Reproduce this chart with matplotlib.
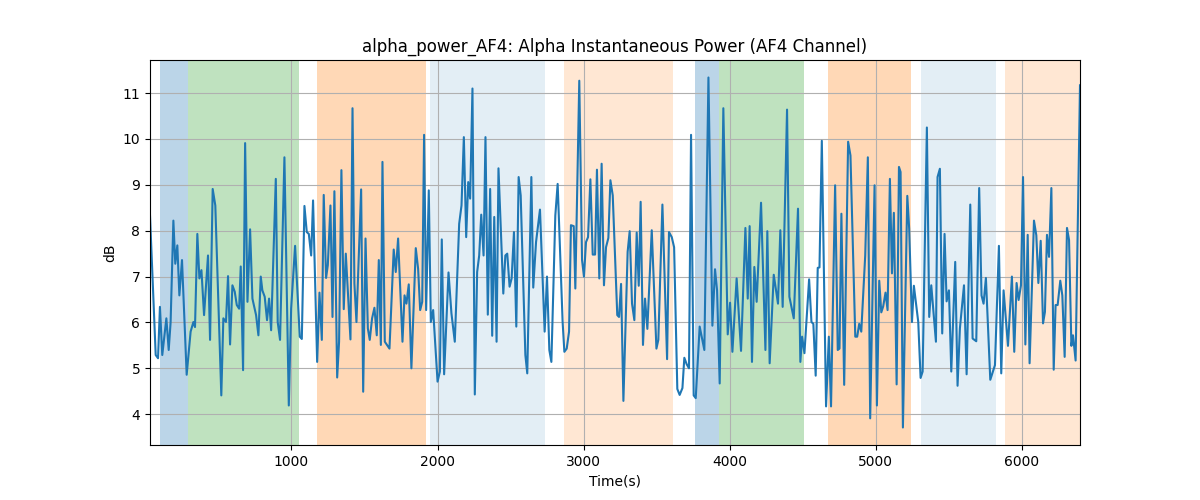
import matplotlib
matplotlib.use('Agg')
import matplotlib.pyplot as plt

# time (s) and alpha power (dB)
t = [32, 71, 87, 100, 116, 144, 160, 173, 192, 205, 219, 233, 251, 283, 310, 329, 340, 356, 370, 384,
     402, 429, 443, 461, 479, 520, 534, 552, 566, 580, 596, 612, 626, 642, 653, 669, 683, 699, 717, 733,
     758, 774, 790, 801, 817,
     833, 847, 861, 893, 906, 922, 952, 982, 998, 1025, 1057, 1071, 1089, 1105, 1119, 1135, 1148, 1176,
     1192, 1208, 1221, 1237, 1249, 1267, 1281, 1294, 1313, 1326, 1342, 1358, 1372, 1404, 1418, 1431, 1445,
     1477, 1491, 1507, 1523, 1536, 1552, 1568, 1584, 1598, 1612, 1623,
     1639, 1671, 1700, 1714, 1730, 1760, 1774, 1787, 1803, 1821, 1851, 1867, 1881, 1895, 1908, 1922, 1940,
     1954, 1970, 2000, 2016, 2029, 2045, 2075, 2095, 2118, 2148, 2164, 2180, 2196, 2210, 2223, 2239, 2255,
     2271, 2285, 2299, 2315, 2328, 2344, 2360, 2374, 2388, 2404, 2417,
     2450, 2464, 2477, 2493, 2507, 2523, 2539, 2555, 2569, 2601, 2614, 2642, 2655, 2674, 2701, 2733, 2749,
     2765, 2779, 2806, 2822, 2856, 2868, 2884, 2900, 2913, 2932, 2943, 2970, 2989, 3002, 3016, 3030, 3046,
     3062, 3078, 3091, 3107, 3123, 3139, 3153, 3169, 3183, 3199, 3230,
     3242, 3256, 3272, 3301, 3315, 3331, 3347, 3363, 3377, 3390, 3406, 3420, 3436, 3466, 3498, 3511, 3539,
     3571, 3584, 3603, 3619, 3641, 3657, 3676, 3689, 3705, 3721, 3735, 3753, 3767, 3794, 3826, 3854, 3881,
     3899, 3913, 3931, 3956, 3986, 4002, 4018,
     4047, 4077, 4107, 4123, 4136, 4152, 4168, 4184, 4214, 4244, 4257, 4273, 4301, 4330, 4346, 4362, 4392,
     4408, 4438, 4467, 4483, 4495, 4511, 4543, 4559, 4572, 4588, 4602, 4614, 4630, 4659, 4678, 4693, 4721,
     4739, 4751, 4764, 4783, 4810, 4826,
     4859, 4872, 4886, 4900, 4927, 4945, 4961, 4991, 5007, 5023, 5037, 5050, 5066, 5080, 5096, 5110, 5123,
     5142, 5158, 5169, 5185, 5215, 5228, 5247, 5260, 5290, 5306, 5320, 5349, 5365, 5379, 5411, 5422, 5438,
     5454, 5470, 5484, 5500, 5516, 5543, 5559, 5575, 5603, 5621,
     5646, 5662, 5687, 5707, 5723, 5737, 5753, 5783, 5815, 5842, 5858, 5874, 5904, 5931, 5947, 5963, 5977,
     5993, 6007, 6023, 6039, 6052, 6082, 6098, 6112, 6128, 6144, 6157, 6171, 6185, 6201, 6217, 6230, 6244,
     6262, 6276, 6292, 6308, 6322, 6338, 6349, 6367, 6397]
db = [8.33, 5.29, 5.22, 6.34, 5.29, 6.09, 5.4, 6.0, 8.22, 7.28, 7.68, 6.59, 7.36, 4.86, 5.8, 6.01, 5.9, 7.93, 6.96, 7.14,
      6.16, 7.46, 5.62, 8.91, 8.55, 4.41, 6.09, 6.01, 7.01, 5.52, 6.81, 6.67, 6.38, 6.3, 7.22, 4.96, 9.91, 6.45, 8.03, 6.52,
      6.16, 5.72, 7.0, 6.7, 6.56,
      6.05, 6.52, 5.83, 9.13, 6.01, 5.62, 9.6, 4.19, 6.3, 7.67, 5.69, 5.64, 8.54, 7.97, 7.93, 7.46, 8.66, 5.14,
      6.65, 5.62, 8.78, 6.97, 7.25, 8.55, 6.12, 8.86, 4.8, 5.58, 9.32, 6.29, 7.5, 5.63, 10.67, 6.85, 6.01,
      8.9, 4.49, 7.83, 5.87, 5.62, 6.09, 6.32, 5.72, 7.36, 5.51, 9.5,
      5.58, 5.43, 7.59, 7.1, 7.83, 5.58, 6.59, 6.41, 6.83, 5.0, 7.62, 7.17, 6.27, 6.45, 10.09, 6.27, 8.88,
      6.01, 6.27, 4.71, 4.93, 7.81, 4.87, 7.09, 6.2, 5.58, 8.15, 8.55, 10.04, 7.86, 9.06, 8.7, 11.1, 4.43,
      7.1, 7.46, 8.35, 7.46, 10.04, 6.17, 8.91, 5.71, 8.3, 5.58, 9.36,
      6.63, 7.46, 7.5, 6.78, 6.96, 7.97, 5.91, 9.17, 8.77, 5.29, 4.89, 9.17, 6.76, 7.75, 8.46, 5.8, 7.0,
      5.4, 5.14, 8.33, 9.02, 6.01, 5.36, 5.43, 5.8, 8.12, 8.1, 6.74, 11.27, 7.36, 7.0, 7.75, 7.86, 9.12,
      7.48, 7.48, 9.33, 6.96, 9.46, 6.81, 7.64, 7.84, 9.1, 8.77, 6.16,
      6.12, 6.84, 4.29, 7.54, 7.99, 6.41, 6.05, 7.96, 6.8, 8.63, 5.51, 6.52, 5.86, 8.01, 5.43, 5.62, 8.57,
      5.2, 7.97, 7.86, 7.64, 4.55, 4.42, 4.57, 5.23, 5.09, 5.0, 10.09, 4.41, 4.35, 5.91, 5.4, 11.34, 5.93,
      7.16, 6.7, 4.67, 10.67, 5.74, 6.43, 5.36,
      6.96, 5.38, 8.06, 6.52, 8.1, 5.14, 7.21, 6.45, 8.61, 5.4, 7.99, 5.11, 7.04, 6.41, 8.01, 6.34, 10.64,
      6.56, 6.09, 8.48, 5.14, 5.69, 5.33, 6.94, 6.01, 5.97, 4.84, 7.19, 7.2, 9.96, 4.17, 5.69, 4.17, 8.99,
      5.4, 5.43, 8.37, 4.64, 9.94, 9.64,
      5.69, 5.69, 5.97, 5.8, 7.46, 9.6, 3.91, 8.99, 4.19, 6.91, 6.22, 6.35, 6.65, 6.27, 9.13, 7.07, 8.39,
      4.65, 9.39, 9.28, 3.71, 8.76, 8.04, 6.01, 6.8, 6.01, 4.79, 4.93, 10.25, 6.12, 6.81, 5.58, 9.17, 9.35,
      5.76, 7.93, 6.46, 6.7, 4.93, 7.32, 4.62, 5.87, 6.81, 4.87,
      8.57, 5.65, 5.59, 8.93, 6.59, 6.41, 6.97, 4.75, 5.07, 7.67, 4.89, 6.7, 5.49, 7.0, 5.36, 6.86, 6.49,
      6.81, 9.17, 5.52, 7.91, 5.11, 8.22, 7.9, 6.86, 7.78, 5.98, 6.23, 7.91, 7.43, 8.93, 4.97, 6.38, 6.38,
      6.91, 6.59, 5.25, 8.06, 7.8, 5.49, 5.72, 5.17, 11.17]

# shaded segments: start, end, colour, alpha
seg_start = [103, 293, 1177, 1950, 2863, 3760, 3926, 4671, 5308, 5882]
seg_end = [293, 1049, 1921, 2735, 3612, 3926, 4509, 5242, 5820, 6400]
seg_color = ['C0', 'C2', 'C1', 'C0', 'C1', 'C0', 'C2', 'C1', 'C0', 'C1']
seg_alpha = [0.3, 0.3, 0.3, 0.12, 0.18, 0.3, 0.3, 0.3, 0.12, 0.18]

fig, ax = plt.subplots(figsize=(12, 5), dpi=100)
for s, e, c, a in zip(seg_start, seg_end, seg_color, seg_alpha):
    ax.axvspan(s, e, color=c, alpha=a, linewidth=0)
ax.plot(t, db, color='C0')
ax.set_xlim(t[0], t[-1])
ax.grid(True)
ax.set_title("alpha_power_AF4: Alpha Instantaneous Power (AF4 Channel)")
ax.set_xlabel("Time(s)")
ax.set_ylabel("dB")
plt.savefig("out.png")
